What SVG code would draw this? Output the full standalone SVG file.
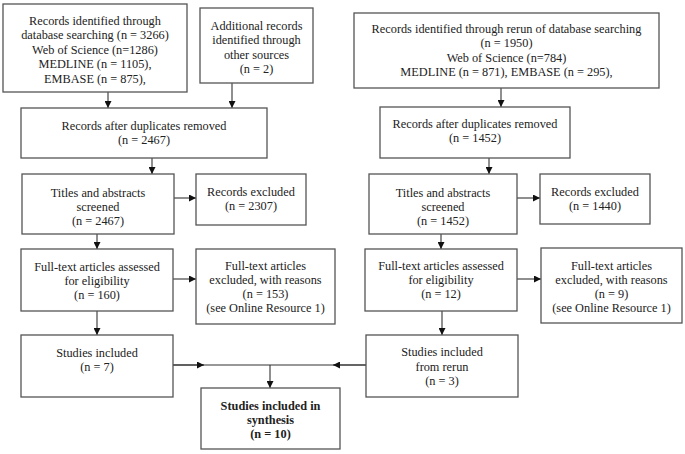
<svg xmlns="http://www.w3.org/2000/svg" width="685" height="454" viewBox="0 0 685 454">
<style>
rect{fill:#fff;stroke:#555;stroke-width:1.3}
text{font-family:"Liberation Serif","Times New Roman",serif;font-size:12.3px;fill:#222;text-anchor:middle}
.b{font-weight:bold}
.c{stroke:#333;stroke-width:1.1;fill:none}
</style>
<defs>
<marker id="ah" markerWidth="8" markerHeight="7" refX="7" refY="3.5" orient="auto" markerUnits="userSpaceOnUse">
<path d="M0,0 L7,3.5 L0,7 z" fill="#111"/>
</marker>
</defs>
<rect x="0" y="0" width="685" height="454" style="fill:#fff;stroke:none"/>
<g id="connectors">
<path class="c" d="M108,92 V108" marker-end="url(#ah)"/>
<path class="c" d="M232,83 V108" marker-end="url(#ah)"/>
<path class="c" d="M152,158 V174" marker-end="url(#ah)"/>
<path class="c" d="M174,198 H196" marker-end="url(#ah)"/>
<path class="c" d="M97,234 V249" marker-end="url(#ah)"/>
<path class="c" d="M173,279 H196" marker-end="url(#ah)"/>
<path class="c" d="M97,311 V335" marker-end="url(#ah)"/>
<path class="c" d="M501,88 V107" marker-end="url(#ah)"/>
<path class="c" d="M489,158 V174" marker-end="url(#ah)"/>
<path class="c" d="M517,198 H540" marker-end="url(#ah)"/>
<path class="c" d="M441,234 V249" marker-end="url(#ah)"/>
<path class="c" d="M517,279 H541" marker-end="url(#ah)"/>
<path class="c" d="M442,311 V335" marker-end="url(#ah)"/>
<path class="c" d="M173,365 H366"/>
<path class="c" d="M173,365 H204" marker-end="url(#ah)"/>
<path class="c" d="M366,365 H333" marker-end="url(#ah)"/>
<path class="c" d="M270,365 V388" marker-end="url(#ah)"/>
</g>
<g id="n1">
<rect x="3" y="4" width="184" height="88"/>
<text x="95" y="24.5">Records identified through</text>
<text x="95" y="39">database searching (n = 3266)</text>
<text x="95" y="53.5">Web of Science (n=1286)</text>
<text x="95" y="68">MEDLINE (n = 1105),</text>
<text x="95" y="82.5">EMBASE (n = 875),</text>
</g>
<g id="n2">
<rect x="200" y="8" width="113" height="75"/>
<text x="256.5" y="29.5">Additional records</text>
<text x="256.5" y="44">identified through</text>
<text x="256.5" y="58.5">other sources</text>
<text x="256.5" y="73">(n = 2)</text>
</g>
<g id="n3">
<rect x="21" y="108" width="246" height="50"/>
<text x="144" y="129.5">Records after duplicates removed</text>
<text x="144" y="143.5">(n = 2467)</text>
</g>
<g id="n4">
<rect x="22" y="174" width="152" height="60"/>
<text x="98" y="196.5">Titles and abstracts</text>
<text x="98" y="210.5">screened</text>
<text x="98" y="225">(n = 2467)</text>
</g>
<g id="n5">
<rect x="196" y="174" width="110" height="51"/>
<text x="251" y="195.5">Records excluded</text>
<text x="251" y="209.5">(n = 2307)</text>
</g>
<g id="n6">
<rect x="21" y="249" width="152" height="62"/>
<text x="97" y="271">Full-text articles assessed</text>
<text x="97" y="285">for eligibility</text>
<text x="97" y="299">(n = 160)</text>
</g>
<g id="n7">
<rect x="196" y="249" width="139" height="75"/>
<text x="265.5" y="270">Full-text articles</text>
<text x="265.5" y="284">excluded, with reasons</text>
<text x="265.5" y="298">(n = 153)</text>
<text x="265.5" y="312">(see Online Resource 1)</text>
</g>
<g id="n8">
<rect x="21" y="335" width="152" height="62"/>
<text x="97" y="356.5">Studies included</text>
<text x="97" y="371">(n = 7)</text>
</g>
<g id="n9">
<rect x="201" y="388" width="139" height="61"/>
<text class="b" x="270.5" y="410">Studies included in</text>
<text class="b" x="270.5" y="424">synthesis</text>
<text class="b" x="270.5" y="438">(n = 10)</text>
</g>
<g id="r1">
<rect x="354" y="13" width="305" height="75"/>
<text x="506.5" y="32.5">Records identified through rerun of database searching</text>
<text x="506.5" y="47">(n = 1950)</text>
<text x="506.5" y="61.5">Web of Science (n=784)</text>
<text x="506.5" y="76">MEDLINE (n = 871), EMBASE (n = 295),</text>
</g>
<g id="r2">
<rect x="380" y="107" width="190" height="51"/>
<text x="475" y="127.5">Records after duplicates removed</text>
<text x="475" y="141.5">(n = 1452)</text>
</g>
<g id="r3">
<rect x="369" y="174" width="148" height="60"/>
<text x="443" y="196.5">Titles and abstracts</text>
<text x="443" y="210.5">screened</text>
<text x="443" y="225">(n = 1452)</text>
</g>
<g id="r4">
<rect x="540" y="174" width="110" height="50"/>
<text x="595" y="195.5">Records excluded</text>
<text x="595" y="209.5">(n = 1440)</text>
</g>
<g id="r5">
<rect x="365" y="249" width="152" height="62"/>
<text x="441" y="270">Full-text articles assessed</text>
<text x="441" y="284">for eligibility</text>
<text x="441" y="298">(n = 12)</text>
</g>
<g id="r6">
<rect x="541" y="248" width="141" height="75"/>
<text x="611.5" y="269.5">Full-text articles</text>
<text x="611.5" y="283.5">excluded, with reasons</text>
<text x="611.5" y="297.5">(n = 9)</text>
<text x="611.5" y="311.5">(see Online Resource 1)</text>
</g>
<g id="r7">
<rect x="366" y="335" width="152" height="62"/>
<text x="442" y="356">Studies included</text>
<text x="442" y="370.5">from rerun</text>
<text x="442" y="385">(n = 3)</text>
</g>
</svg>
